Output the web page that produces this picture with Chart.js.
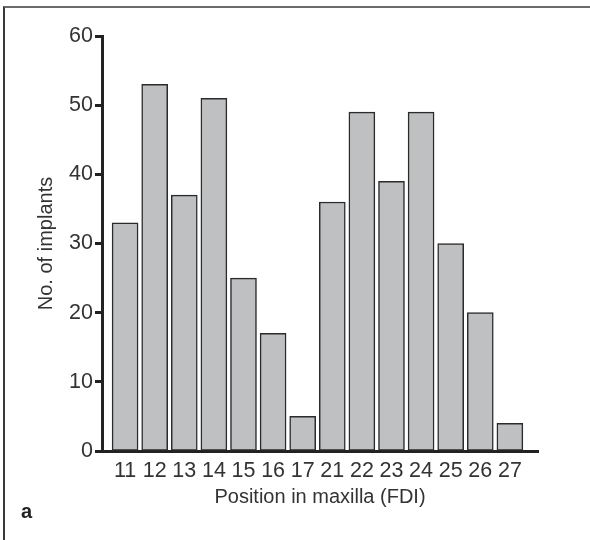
<!DOCTYPE html>
<html>
<head>
<meta charset="utf-8">
<script src="https://cdn.jsdelivr.net/npm/chart.js@4/dist/chart.umd.min.js"></script>
<style>
  html, body { margin: 0; padding: 0; background: #fff; }
  #wrap { position: relative; width: 590px; height: 540px; overflow: hidden; }
  #frame {
    position: absolute; left: 3px; top: 6px; right: 0; bottom: 0;
    border-top: 2px solid #6b6b6b;
    border-left: 2px solid #3a3a3a;
  }
  #panel {
    position: absolute; left: 21px; top: 500px;
    font: bold 20px "Liberation Sans", Arial, sans-serif; color: #222;
  }
  canvas { position: absolute; left: 0; top: 0; }
</style>
</head>
<body>
<div id="wrap">
  <div id="frame"></div>
  <canvas id="implantChart" width="590" height="540"></canvas>
  <div id="panel">a</div>
</div>
<script>
const positions = ["11", "12", "13", "14", "15", "16", "17", "21", "22", "23", "24", "25", "26", "27"];
const implants = [33, 53, 37, 51, 25, 17, 5, 36, 49, 39, 49, 30, 20, 4];
const yTicks = [0, 10, 20, 30, 40, 50, 60];

const FONT = "'Liberation Sans', Arial, sans-serif";
const INK = "#333";

const ctx = document.getElementById("implantChart").getContext("2d");
const chart = new Chart(ctx, {
  type: "bar",
  data: {
    datasets: [{
      label: "No. of implants",
      data: implants.map((v, i) => ({ x: i, y: v })),
      backgroundColor: "#bfc0c2",
      borderColor: "#2b2b2b",
      borderWidth: 1.5,
      borderSkipped: false,
      barThickness: 26
    }]
  },
  options: {
    responsive: false,
    animation: false,
    layout: { padding: { left: 0, top: 36, right: 52, bottom: 0 } },
    plugins: { legend: { display: false }, tooltip: { enabled: false } },
    scales: {
      x: {
        type: "linear",
        offset: false,
        min: -0.78,
        max: 13.95,
        afterBuildTicks: s => { s.ticks = positions.map((_, i) => ({ value: i })); },
        afterFit: s => { s.height = 89; },
        grid: { drawOnChartArea: false, drawTicks: false, offset: false },
        border: { display: true, width: 3, color: "#222" },
        ticks: {
          autoSkip: false,
          maxRotation: 0,
          padding: 7,
          color: INK,
          font: { family: FONT, size: 21.5 },
          callback: v => positions[v]
        },
        title: {
          display: true,
          text: "Position in maxilla (FDI)",
          color: INK,
          font: { family: FONT, size: 20 },
          padding: { bottom: 31 }
        }
      },
      y: {
        min: 0,
        max: 60,
        afterBuildTicks: s => { s.ticks = yTicks.map(v => ({ value: v })); },
        afterFit: s => { s.width = 102; },
        grid: { drawOnChartArea: false, drawTicks: true, tickLength: 7, tickWidth: 3, tickColor: "#222" },
        border: { display: true, width: 3, color: "#222" },
        ticks: {
          padding: 2,
          color: INK,
          font: { family: FONT, size: 21.5 }
        },
        title: {
          display: true,
          text: "No. of implants",
          color: INK,
          font: { family: FONT, size: 20 },
          padding: { top: 34 }
        }
      }
    }
  }
});
</script>
</body>
</html>
